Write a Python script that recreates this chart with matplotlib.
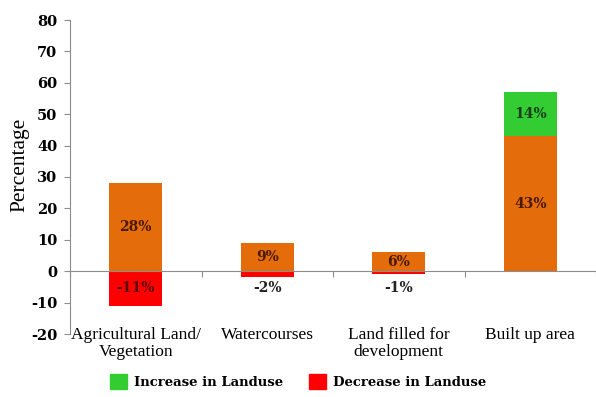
import matplotlib
matplotlib.use("Agg")
import matplotlib.pyplot as plt
from matplotlib.patches import Patch
from matplotlib.transforms import blended_transform_factory
import numpy as np

categories = ["Agricultural Land/\nVegetation", "Watercourses",
              "Land filled for\ndevelopment", "Built up area"]
base = [28, 9, 6, 43]          # current share (orange)
increase = [0, 0, 0, 14]       # increase in landuse (green)
decrease = [-11, -2, -1, 0]    # decrease in landuse (red)
yticks = [-20, -10, 0, 10, 20, 30, 40, 50, 60, 70, 80]

ORANGE = "#E46C0A"
GREEN = "#33CC33"
RED = "#FF0000"
GRID = "#8C8C8C"

fig = plt.figure(figsize=(5.96, 3.97), dpi=100)
ax = fig.add_axes([70 / 596, 63 / 397, 526 / 596, 314 / 397])

x = np.arange(len(categories))
w = 0.4
ax.bar(x, base, w, color=ORANGE, zorder=2)
ax.bar(x, increase, w, bottom=base, color=GREEN, zorder=2)
ax.bar(x, decrease, w, color=RED, zorder=2)

ax.set_xlim(-0.5, len(categories) - 0.5)
ax.set_ylim(-20, 80)
ax.set_yticks(yticks)
ax.set_yticklabels([str(t) for t in yticks], family="DejaVu Serif",
                   fontweight="bold", fontsize=10.5)
ax.tick_params(axis="y", length=4, width=0.8, color=GRID, pad=5)

for s in ["top", "right"]:
    ax.spines[s].set_visible(False)
ax.spines["left"].set_color(GRID)
ax.spines["bottom"].set_position(("data", 0))
ax.spines["bottom"].set_color(GRID)
ax.set_xticks(np.arange(len(categories) + 1) - 0.5)
ax.set_xticklabels([])
ax.tick_params(axis="x", length=4, width=0.8, color=GRID, direction="out")

trans = blended_transform_factory(ax.transData, ax.transData)
for xi, lab in zip(x, categories):
    ax.text(xi, -17.8, lab, ha="center", va="top", family="Liberation Serif",
            fontsize=12.5, linespacing=1.1, transform=trans)

ax.set_ylabel("Percentage", family="Liberation Serif", fontsize=15.5)
ax.yaxis.set_label_coords(-0.078, 0.54)

lab_kw = dict(ha="center", va="center", family="DejaVu Serif",
              fontweight="bold", fontsize=10, zorder=3)
for xi, b, inc, dec in zip(x, base, increase, decrease):
    ax.text(xi, b / 2, f"{b}%", color="#4A1A00", **lab_kw)
    if inc:
        ax.text(xi, b + inc / 2, f"{inc}%", color="#1E3D1E", **lab_kw)
    if dec:
        if dec <= -5:
            ax.text(xi, dec / 2, f"{dec}%", color="#5A0A00", **lab_kw)
        else:
            ax.text(xi, -5.5, f"{dec}%", color="#222222", **lab_kw)

handles = [Patch(color=GREEN, label="Increase in Landuse"),
           Patch(color=RED, label="Decrease in Landuse")]
fig.legend(handles=handles, loc="lower center", bbox_to_anchor=(0.5, -0.01),
           ncol=2, frameon=False, handlelength=1.3, handleheight=1.3,
           columnspacing=2.0, handletextpad=0.5,
           prop=dict(family="DejaVu Serif", weight="bold", size=9.5))

fig.savefig("out.png", dpi=100)
